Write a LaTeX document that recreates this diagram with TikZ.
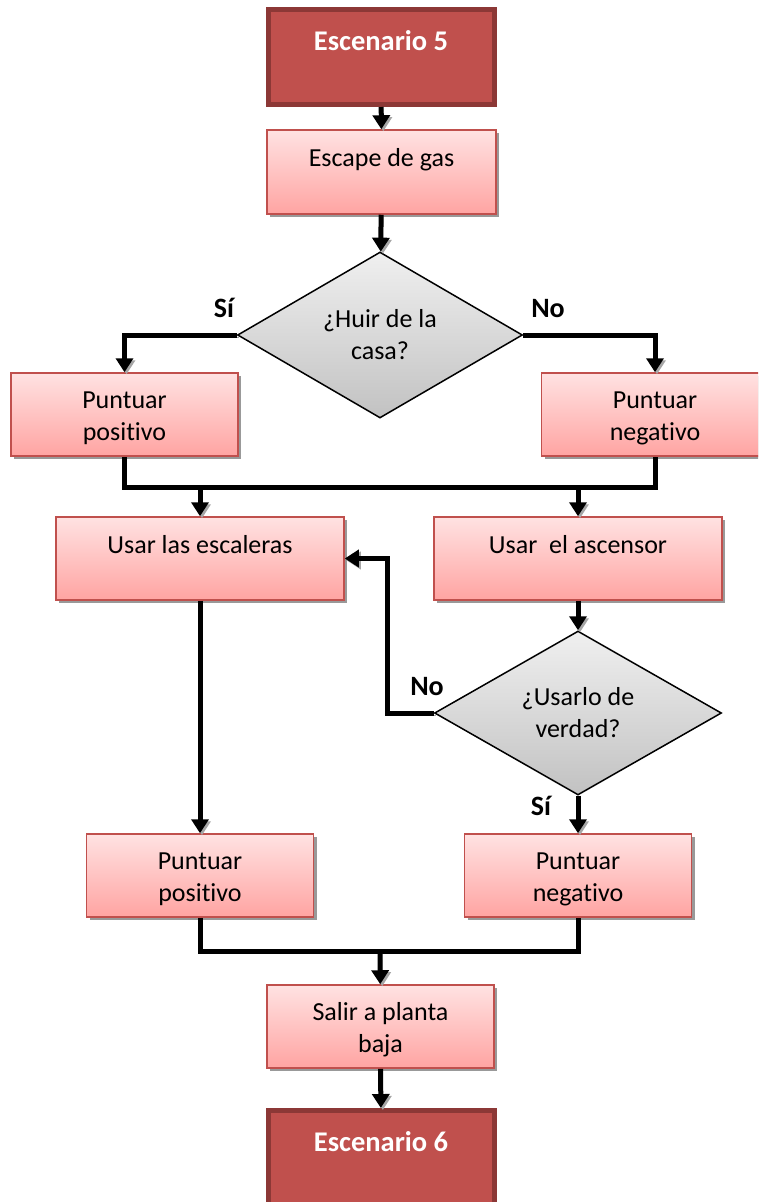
\documentclass[tikz,border=0pt]{standalone}
\usepackage{fontspec}
\setmainfont{Carlito}[Ligatures=NoCommon]
\usetikzlibrary{shapes.geometric,arrows.meta}

\definecolor{rojo}{HTML}{C0504D}
\definecolor{rojoOscuro}{HTML}{8C3836}
\definecolor{rosaClaro}{HTML}{FFE2E2}
\definecolor{rosa}{HTML}{FFA4A2}

\newcommand*{\xMax}{758}
\newcommand*{\yMax}{1202}

\tikzset{
  caja/.style={rectangle, draw=rojo, line width=1.5pt, top color=rosaClaro, bottom color=rosa,
    minimum width=227pt, minimum height=83pt, inner sep=0pt, align=center,
    font=\fontsize{26}{32}\selectfont,
    preaction={fill=black!40, transform canvas={xshift=3pt,yshift=-3pt}}},
  unalinea/.style={text height=22pt, text depth=33pt},
  doslineas/.style={text height=58pt, text depth=7pt},
  escenario/.style={rectangle, draw=rojoOscuro, line width=5pt, fill=rojo, text=white,
    minimum width=226pt, minimum height=95pt, inner sep=0pt, text height=20pt, text depth=34pt,
    font=\fontsize{28.5}{34}\selectfont\bfseries},
  pregunta/.style={diamond, draw=black, line width=1.5pt, top color=gray!12, bottom color=gray!48,
    minimum width=285pt, minimum height=166pt, inner sep=0pt, aspect=1.7, align=center,
    font=\fontsize{26}{32}\selectfont},
  linea/.style={line width=5pt, preaction={draw=black!35, transform canvas={xshift=2pt,yshift=-2pt}}},
  flecha/.style={linea, -{Triangle[width=17pt,length=14pt]}},
  rotulo/.style={font=\fontsize{28}{34}\selectfont\bfseries, anchor=base},
}

\begin{document}
\begin{tikzpicture}[x=1pt,y=-1pt]
    \useasboundingbox (0,0) rectangle (\xMax,\yMax);
    \clip (0,0) rectangle (\xMax,\yMax);
%   \foreach \i in {0,50,...,750} {
%       \draw [very thin,gray] (\i,0) -- (\i,\yMax)  ;
%   }

    \node[escenario] (esc5) at (381,57) {Escenario 5};
    \node[caja, unalinea, minimum width=229pt, minimum height=84pt] (escape) at (381.5,172) {Escape de gas};
    \node[pregunta] (huir) at (380,335) {¿Huir de la\\casa?};

    \foreach \nm/\x/\y/\txt in {pos1/124.5/414.5/positivo, neg1/655/414.5/negativo,
                                pos2/200/875.5/positivo, neg2/578/875.5/negativo} {
        \node[caja, doslineas] (\nm) at (\x,\y) {Puntuar\\\txt};
        }

    \node[caja, unalinea, minimum width=288pt] (escal) at (200,558.5) {Usar las escaleras};
    \node[caja, unalinea, minimum width=288pt] (asc) at (578,558.5) {Usar\ \ el ascensor};
    \node[pregunta, minimum width=287pt, minimum height=164pt] (usar) at (578,713) {¿Usarlo de\\verdad?};

    \node[caja, doslineas] (salir) at (380.5,1026.5) {Salir a planta\\baja};
    \node[escenario] (esc6) at (381,1158) {Escenario 6};

    \coordinate (junta1) at (380,487);
    \coordinate (vuelta) at (387,558.5);
    \coordinate (junta2) at (380,951);

    \draw[flecha] (esc5) -- (escape);
    \draw[flecha] (escape) -- (huir);
    \draw[flecha] (huir.west) -| (pos1);
    \draw[flecha] (huir.east) -| (neg1);
    \draw[linea] (pos1) |- (junta1) -| (neg1);
    \draw[flecha] (escal |- junta1) -- (escal);
    \draw[flecha] (asc |- junta1) -- (asc);
    \draw[flecha] (asc) -- (usar);
    \draw[flecha] (usar.west) -| (vuelta) -- (escal.east);
    \draw[flecha] (usar) -- (neg2);
    \draw[flecha] (escal) -- (pos2);
    \draw[linea] (pos2) |- (junta2) -| (neg2);
    \draw[flecha] (junta2) -- (salir);
    \draw[flecha] (salir) -- (esc6);

    \foreach \nm/\x/\y/\txt in {si1/224/317/Sí, no1/548/317/No, no2/427/695/No, si2/541/815/Sí} {
        \node[rotulo] (\nm) at (\x,\y) {\txt};
        }

\end{tikzpicture}
\end{document}
